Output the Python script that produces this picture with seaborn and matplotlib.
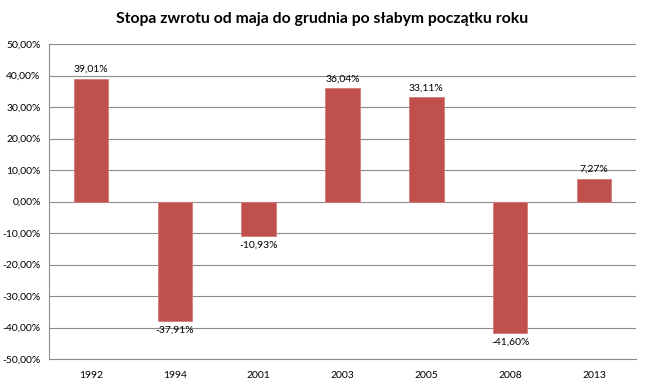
import pandas as pd
import matplotlib.pyplot as plt
import seaborn as sns
from matplotlib.ticker import FuncFormatter

years = ["1992", "1994", "2001", "2003", "2005", "2008", "2013"]
returns = [39.01, -37.91, -10.93, 36.04, 33.11, -41.60, 7.27]

df = pd.DataFrame({"Rok": years, "Zwrot": returns})

sns.set_style("white")
plt.rcParams["font.family"] = ["Lato", "DejaVu Sans"]
plt.rcParams["text.color"] = "black"
plt.rcParams["xtick.color"] = "black"
plt.rcParams["ytick.color"] = "black"

fig = plt.figure(figsize=(6.45, 3.84), dpi=100)
ax = fig.add_axes([49 / 645, 1 - 359 / 384, 587 / 645, 315 / 384])

sns.barplot(data=df, x="Rok", y="Zwrot", color="#C0504D", saturation=1,
            width=0.41, ax=ax, edgecolor="#D27C79", linewidth=0.6, zorder=3)

ax.set_ylim(-50, 50)
ax.set_yticks(range(-50, 51, 10))
ax.yaxis.set_major_formatter(FuncFormatter(lambda v, _: f"{v:.2f}%".replace(".", ",")))
ax.grid(axis="y", color="#8c8c8c", linewidth=0.8, zorder=0)
ax.set_axisbelow(True)

for s in ["top", "right"]:
    ax.spines[s].set_visible(False)
for s in ["left", "bottom"]:
    ax.spines[s].set_color("#8c8c8c")
    ax.spines[s].set_linewidth(0.8)

ax.tick_params(axis="y", length=4, color="#8c8c8c", labelsize=7.5, pad=2)
ax.tick_params(axis="x", length=0, labelsize=7.5, pad=9)
ax.set_xlabel("")
ax.set_ylabel("")

for i, v in enumerate(returns):
    label = f"{v:.2f}%".replace(".", ",")
    if v >= 0:
        ax.text(i, v + 1.5, label, ha="center", va="bottom", fontsize=7.5)
    else:
        ax.text(i, v - 1.5, label, ha="center", va="top", fontsize=7.5)

fig.text(0.5, 1 - 19 / 384, "Stopa zwrotu od maja do grudnia po słabym początku roku",
         ha="center", va="center", fontsize=11.3, fontweight="bold")

fig.savefig("out.png", dpi=100)
